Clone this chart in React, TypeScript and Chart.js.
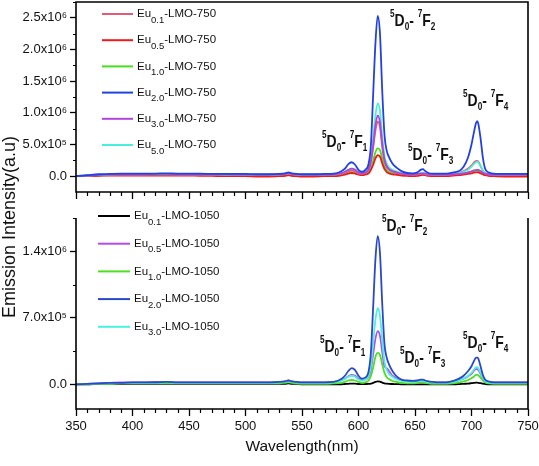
import React, { useEffect, useRef } from "react";
import { Chart, registerables } from "chart.js";
Chart.register(...registerables);

const FONT = '"Liberation Sans", Arial, Helvetica, sans-serif';

// Wavelength grid (nm)
const WAVELENGTH = [
  350, 360, 370, 380, 390, 400, 410, 420, 430, 440, 450, 460, 470, 480, 490, 500, 510, 520, 530,
  535, 538, 541, 545, 550, 560, 570, 578,
  584, 588, 591, 594, 597, 600, 603, 606, 609,
  611, 613, 615, 617, 619, 621, 623, 625, 627,
  630, 634, 638, 643, 648, 652, 655, 657, 659, 662, 666,
  672, 678, 684, 689, 693, 697, 700, 702, 704, 705, 706, 708, 710, 712, 715,
  720, 730, 740, 750,
];

// ---- Top panel (LMO-750), intensity in units of 10^6 ----
const EU01_750 = [
  0.0, 0.01, 0.015, 0.02, 0.025, 0.025, 0.025, 0.03, 0.03, 0.025, 0.025, 0.025, 0.02, 0.02, 0.02, 0.02, 0.02, 0.02, 0.02,
  0.03, 0.04, 0.03, 0.02, 0.015, 0.015, 0.02, 0.02,
  0.035, 0.05, 0.075, 0.09, 0.075, 0.045, 0.035, 0.05, 0.1,
  0.22, 0.45, 0.72, 0.86, 0.77, 0.46, 0.24, 0.14, 0.1,
  0.07, 0.05, 0.035, 0.025, 0.02, 0.025, 0.035, 0.04, 0.03, 0.02, 0.015,
  0.015, 0.02, 0.03, 0.05, 0.08, 0.12, 0.17, 0.21, 0.24, 0.24, 0.23, 0.16, 0.09, 0.045, 0.025,
  0.02, 0.015, 0.015, 0.015,
];
const EU05_750 = [
  0.0, 0.0, 0.005, 0.01, 0.01, 0.01, 0.01, 0.01, 0.01, 0.01, 0.01, 0.005, 0.005, 0.0, 0.0, 0.0, -0.005, -0.005, 0.0,
  0.005, 0.015, 0.005, 0.0, -0.005, -0.005, 0.0, 0.0,
  0.01, 0.025, 0.04, 0.05, 0.04, 0.025, 0.015, 0.025, 0.045,
  0.1, 0.18, 0.28, 0.33, 0.31, 0.2, 0.11, 0.065, 0.045,
  0.03, 0.02, 0.01, 0.005, 0.0, 0.005, 0.015, 0.02, 0.015, 0.005, 0.0,
  0.0, 0.0, 0.01, 0.015, 0.025, 0.035, 0.045, 0.055, 0.06, 0.06, 0.058, 0.045, 0.03, 0.015, 0.005,
  0.0, -0.005, -0.005, -0.005,
];
const EU10_750 = [
  0.0, 0.005, 0.01, 0.015, 0.02, 0.02, 0.02, 0.02, 0.02, 0.02, 0.02, 0.015, 0.015, 0.015, 0.015, 0.015, 0.015, 0.015, 0.015,
  0.02, 0.03, 0.02, 0.015, 0.01, 0.01, 0.015, 0.015,
  0.025, 0.04, 0.055, 0.065, 0.055, 0.035, 0.025, 0.035, 0.06,
  0.12, 0.24, 0.38, 0.44, 0.41, 0.28, 0.15, 0.09, 0.065,
  0.045, 0.035, 0.025, 0.02, 0.015, 0.02, 0.025, 0.03, 0.025, 0.015, 0.01,
  0.01, 0.015, 0.02, 0.03, 0.04, 0.055, 0.07, 0.08, 0.085, 0.085, 0.08, 0.065, 0.04, 0.025, 0.015,
  0.01, 0.01, 0.01, 0.01,
];
const EU20_750 = [
  0.0, 0.015, 0.03, 0.035, 0.04, 0.04, 0.04, 0.04, 0.045, 0.04, 0.04, 0.04, 0.035, 0.035, 0.035, 0.035, 0.03, 0.03, 0.035,
  0.045, 0.06, 0.045, 0.035, 0.03, 0.03, 0.035, 0.04,
  0.07, 0.12, 0.19, 0.22, 0.18, 0.1, 0.07, 0.1, 0.2,
  0.5, 1.3, 2.1, 2.53, 2.25, 1.35, 0.65, 0.4, 0.3,
  0.2, 0.13, 0.08, 0.05, 0.045, 0.06, 0.1, 0.11, 0.08, 0.05, 0.04,
  0.04, 0.04, 0.06, 0.08, 0.15, 0.3, 0.5, 0.68, 0.84, 0.87, 0.83, 0.6, 0.3, 0.12, 0.06,
  0.04, 0.035, 0.035, 0.035,
];
const EU30_750 = [
  0.0, 0.01, 0.02, 0.025, 0.03, 0.03, 0.03, 0.035, 0.035, 0.03, 0.03, 0.03, 0.03, 0.03, 0.025, 0.025, 0.025, 0.025, 0.03,
  0.035, 0.045, 0.035, 0.03, 0.025, 0.025, 0.025, 0.03,
  0.045, 0.07, 0.1, 0.12, 0.1, 0.06, 0.045, 0.06, 0.11,
  0.24, 0.5, 0.8, 0.96, 0.85, 0.52, 0.26, 0.16, 0.11,
  0.08, 0.06, 0.04, 0.03, 0.03, 0.035, 0.04, 0.045, 0.04, 0.03, 0.025,
  0.025, 0.025, 0.03, 0.035, 0.045, 0.06, 0.075, 0.09, 0.1, 0.1, 0.1, 0.08, 0.055, 0.04, 0.03,
  0.025, 0.025, 0.025, 0.025,
];
const EU50_750 = [
  0.0, 0.01, 0.02, 0.025, 0.03, 0.03, 0.03, 0.03, 0.03, 0.03, 0.03, 0.03, 0.03, 0.025, 0.025, 0.025, 0.025, 0.025, 0.03,
  0.035, 0.045, 0.035, 0.03, 0.025, 0.025, 0.03, 0.03,
  0.045, 0.07, 0.1, 0.12, 0.1, 0.06, 0.05, 0.07, 0.13,
  0.27, 0.6, 0.96, 1.15, 1.03, 0.62, 0.32, 0.2, 0.14,
  0.1, 0.07, 0.05, 0.04, 0.035, 0.04, 0.05, 0.055, 0.045, 0.035, 0.03,
  0.03, 0.03, 0.035, 0.05, 0.07, 0.1, 0.15, 0.19, 0.22, 0.23, 0.22, 0.16, 0.09, 0.05, 0.035,
  0.03, 0.03, 0.03, 0.03,
];

const TOP_LABELS = ["Eu0.1-LMO-750", "Eu0.5-LMO-750", "Eu1.0-LMO-750", "Eu2.0-LMO-750", "Eu3.0-LMO-750", "Eu5.0-LMO-750"];
const TOP_COLORS = ["#e25a74", "#ee1a1a", "#46e01c", "#2242e0", "#b044dc", "#46f0da"];
const TOP_ORDER = [0, 1, 2, -2, -1, -1];

// ---- Bottom panel (LMO-1050) ----
const EU01_1050 = [
  0.0, 0.0, 0.005, 0.005, 0.005, 0.005, 0.005, 0.005, 0.005, 0.005, 0.005, 0.005, 0.005, 0.005, 0.005, 0.005, 0.005, 0.005, 0.005,
  0.005, 0.01, 0.005, 0.005, 0.0, 0.0, 0.0, 0.0,
  0.0, 0.003, 0.005, 0.008, 0.006, 0.003, 0.002, 0.003, 0.005,
  0.008, 0.015, 0.025, 0.03, 0.028, 0.018, 0.01, 0.006, 0.004,
  0.003, 0.002, 0.0, 0.0, 0.0, 0.0, 0.0, 0.0, 0.0, 0.0, 0.0,
  0.0, 0.0, 0.0, 0.002, 0.005, 0.008, 0.012, 0.015, 0.017, 0.017, 0.016, 0.012, 0.006, 0.003, 0.0,
  0.0, 0.0, 0.0, 0.0,
];
const EU05_1050 = [
  0.0, 0.005, 0.01, 0.015, 0.02, 0.02, 0.02, 0.025, 0.025, 0.02, 0.02, 0.02, 0.02, 0.02, 0.02, 0.02, 0.02, 0.02, 0.025,
  0.03, 0.04, 0.03, 0.025, 0.02, 0.02, 0.02, 0.025,
  0.04, 0.06, 0.085, 0.1, 0.09, 0.06, 0.045, 0.05, 0.08,
  0.16, 0.32, 0.48, 0.56, 0.51, 0.34, 0.19, 0.17, 0.14,
  0.09, 0.06, 0.04, 0.035, 0.03, 0.035, 0.04, 0.04, 0.035, 0.025, 0.02,
  0.02, 0.02, 0.03, 0.045, 0.06, 0.085, 0.11, 0.14, 0.16, 0.16, 0.15, 0.11, 0.065, 0.035, 0.025,
  0.02, 0.02, 0.02, 0.02,
];
const EU10_1050 = [
  0.0, 0.0, 0.005, 0.005, 0.01, 0.01, 0.01, 0.01, 0.01, 0.01, 0.01, 0.01, 0.01, 0.01, 0.01, 0.01, 0.01, 0.01, 0.01,
  0.015, 0.02, 0.015, 0.01, 0.005, 0.005, 0.005, 0.01,
  0.015, 0.025, 0.04, 0.045, 0.04, 0.025, 0.015, 0.02, 0.04,
  0.09, 0.18, 0.29, 0.33, 0.31, 0.21, 0.12, 0.075, 0.055,
  0.035, 0.025, 0.015, 0.01, 0.01, 0.015, 0.02, 0.02, 0.015, 0.01, 0.005,
  0.005, 0.005, 0.01, 0.02, 0.03, 0.045, 0.065, 0.08, 0.1, 0.1, 0.095, 0.07, 0.04, 0.02, 0.01,
  0.005, 0.005, 0.005, 0.005,
];
const EU20_1050 = [
  0.0, 0.005, 0.01, 0.015, 0.015, 0.02, 0.02, 0.02, 0.025, 0.02, 0.02, 0.02, 0.02, 0.02, 0.02, 0.02, 0.02, 0.02, 0.025,
  0.03, 0.04, 0.03, 0.025, 0.02, 0.02, 0.02, 0.025,
  0.05, 0.09, 0.14, 0.17, 0.15, 0.09, 0.06, 0.07, 0.14,
  0.34, 0.82, 1.32, 1.56, 1.38, 0.85, 0.42, 0.28, 0.21,
  0.14, 0.08, 0.05, 0.04, 0.035, 0.04, 0.05, 0.05, 0.04, 0.03, 0.025,
  0.02, 0.02, 0.035, 0.06, 0.09, 0.14, 0.19, 0.24, 0.28, 0.28, 0.27, 0.19, 0.1, 0.05, 0.03,
  0.02, 0.02, 0.02, 0.02,
];
const EU30_1050 = [
  0.0, 0.005, 0.01, 0.01, 0.015, 0.015, 0.015, 0.015, 0.02, 0.015, 0.015, 0.015, 0.015, 0.015, 0.015, 0.015, 0.015, 0.015, 0.02,
  0.025, 0.03, 0.025, 0.02, 0.015, 0.015, 0.015, 0.02,
  0.035, 0.055, 0.08, 0.09, 0.08, 0.05, 0.04, 0.05, 0.09,
  0.19, 0.44, 0.68, 0.8, 0.72, 0.46, 0.24, 0.15, 0.11,
  0.08, 0.05, 0.035, 0.03, 0.025, 0.03, 0.035, 0.035, 0.03, 0.02, 0.02,
  0.015, 0.015, 0.025, 0.04, 0.06, 0.09, 0.12, 0.15, 0.18, 0.18, 0.17, 0.12, 0.07, 0.035, 0.02,
  0.015, 0.015, 0.015, 0.015,
];

const BOT_LABELS = ["Eu0.1-LMO-1050", "Eu0.5-LMO-1050", "Eu1.0-LMO-1050", "Eu2.0-LMO-1050", "Eu3.0-LMO-1050"];
const BOT_COLORS = ["#000000", "#b64ce6", "#4ee020", "#2a48c8", "#4af0e2"];
const BOT_ORDER = [5, 0, 1, -2, -1];

// ---- Axes ----
const X_TICKS = [350, 400, 450, 500, 550, 600, 650, 700, 750];
const X_MINOR = [
  360, 370, 380, 390, 410, 420, 430, 440, 460, 470, 480, 490, 510, 520, 530, 540,
  560, 570, 580, 590, 610, 620, 630, 640, 660, 670, 680, 690, 710, 720, 730, 740,
];
const TOP_Y_TICKS = [0, 0.5, 1.0, 1.5, 2.0, 2.5];
const TOP_Y_LABELS = ["0.0", "5.0x10\u2075", "1.0x10\u2076", "1.5x10\u2076", "2.0x10\u2076", "2.5x10\u2076"];
const TOP_Y_MINOR = [0.25, 0.75, 1.25, 1.75, 2.25, 2.75];
const BOT_Y_TICKS = [0, 0.7, 1.4];
const BOT_Y_LABELS = ["0.0", "7.0x10\u2075", "1.4x10\u2076"];
const BOT_Y_MINOR = [0.35, 1.05, 1.75];

// ---- Transition annotations (5D0 - 7FJ), anchored at wavelength / intensity ----
const TOP_TR_J = ["1", "2", "3", "4"];
const TOP_TR_WL = [567.7, 627.9, 643.8, 692.5];
const TOP_TR_Y = [0.537, 2.447, 0.332, 1.184];
const BOT_TR_J = ["1", "2", "3", "4"];
const BOT_TR_WL = [565.9, 620.8, 636.7, 692.5];
const BOT_TR_Y = [0.389, 1.663, 0.274, 0.432];

type Panel = {
  labels: string[];
  colors: string[];
  orders: number[];
  series: number[][];
  yMin: number;
  yMax: number;
  yTicks: number[];
  yLabels: string[];
  yMinor: number[];
  padding: { top: number; bottom: number; left: number; right: number };
  xHeight: number;
  showX: boolean;
  fullFrame: boolean;
  legend: { x: number; y: number; dy: number; len: number };
  trJ: string[];
  trWl: number[];
  trY: number[];
  yTitle: boolean;
};

function decorPlugin(p: Panel) {
  return {
    id: "decor",
    afterDraw(chart: any) {
      const { ctx, chartArea: a, scales } = chart;
      const xs = scales.x;
      const ys = scales.y;
      ctx.save();
      ctx.strokeStyle = "#000";
      ctx.lineWidth = 1.2;
      ctx.beginPath();
      for (const v of X_MINOR) {
        const px = Math.round(xs.getPixelForValue(v)) + 0.5;
        ctx.moveTo(px, a.bottom);
        ctx.lineTo(px, a.bottom + 4);
      }
      for (const v of p.yMinor) {
        const py = Math.round(ys.getPixelForValue(v)) + 0.5;
        ctx.moveTo(a.left - 3, py);
        ctx.lineTo(a.left, py);
      }
      ctx.stroke();

      // frame
      ctx.lineWidth = 1.6;
      ctx.beginPath();
      if (p.fullFrame) {
        ctx.rect(a.left, a.top, a.right - a.left, a.bottom - a.top);
      } else {
        ctx.moveTo(a.left, a.top);
        ctx.lineTo(a.left, a.bottom);
        ctx.lineTo(a.right, a.bottom);
        ctx.lineTo(a.right, a.top);
      }
      ctx.stroke();

      // legend
      const L = p.legend;
      chart.data.datasets.forEach((ds: any, i: number) => {
        const y = L.y + i * L.dy;
        ctx.strokeStyle = ds.borderColor;
        ctx.lineWidth = 2;
        ctx.beginPath();
        ctx.moveTo(L.x, y);
        ctx.lineTo(L.x + L.len, y);
        ctx.stroke();
        const m = /^(Eu)([\d.]+)(.*)$/.exec(ds.label) || ["", ds.label, "", ""];
        let x = L.x + L.len + 4;
        ctx.fillStyle = "#111";
        ctx.textBaseline = "middle";
        ctx.textAlign = "left";
        ctx.font = `11.5px ${FONT}`;
        ctx.fillText(m[1], x, y);
        x += ctx.measureText(m[1]).width;
        ctx.font = `9.5px ${FONT}`;
        ctx.fillText(m[2], x, y + 6);
        x += ctx.measureText(m[2]).width;
        ctx.font = `11.5px ${FONT}`;
        ctx.fillText(m[3], x, y);
      });

      // transition labels
      ctx.fillStyle = "#111";
      ctx.textBaseline = "middle";
      ctx.textAlign = "left";
      p.trJ.forEach((j, i) => {
        const x0 = xs.getPixelForValue(p.trWl[i]);
        const y0 = ys.getPixelForValue(p.trY[i]);
        ctx.save();
        ctx.translate(x0, y0);
        ctx.scale(0.82, 1);
        const parts: [string, number][] = [
          ["5", -1], ["D", 0], ["0", 1], ["-", 0], [" ", 0], ["7", -1], ["F", 0], [j, 1],
        ];
        let x = 0;
        for (const [t, kind] of parts) {
          ctx.font = kind === 0 ? `bold 17px ${FONT}` : `bold 10px ${FONT}`;
          const dy = kind === -1 ? -7 : kind === 1 ? 6 : 0;
          ctx.fillText(t, x, dy);
          x += ctx.measureText(t).width;
        }
        ctx.restore();
      });

      if (p.yTitle) {
        ctx.save();
        ctx.translate(15, 227);
        ctx.rotate(-Math.PI / 2);
        ctx.textAlign = "center";
        ctx.textBaseline = "alphabetic";
        ctx.fillStyle = "#111";
        ctx.font = `18px ${FONT}`;
        ctx.fillText("Emission Intensity(a.u)", 0, 0);
        ctx.restore();
      }
      ctx.restore();
    },
  };
}

function buildConfig(p: Panel): any {
  return {
    type: "line",
    data: {
      datasets: p.labels.map((label, i) => ({
        label,
        data: p.series[i].map((y, k) => ({ x: WAVELENGTH[k], y })),
        borderColor: p.colors[i],
        backgroundColor: p.colors[i],
        borderWidth: 1.8,
        pointRadius: 0,
        fill: false,
        cubicInterpolationMode: "monotone",
        order: p.orders[i],
      })),
    },
    options: {
      responsive: false,
      animation: false,
      events: [],
      layout: { padding: p.padding },
      plugins: { legend: { display: false }, tooltip: { enabled: false }, title: { display: false } },
      scales: {
        x: {
          type: "linear",
          min: 350,
          max: 750,
          afterBuildTicks: (s: any) => {
            s.ticks = X_TICKS.map((v) => ({ value: v }));
          },
          afterFit: (s: any) => {
            s.height = p.xHeight;
            s.paddingLeft = 0;
            s.paddingRight = 0;
          },
          grid: { display: true, drawOnChartArea: false, drawTicks: true, tickLength: 7, tickColor: "#000", tickWidth: 1.3 },
          border: { display: false },
          ticks: {
            display: p.showX,
            padding: 3,
            color: "#111",
            font: { family: FONT, size: 13 },
            maxRotation: 0,
            autoSkip: false,
            callback: (v: any) => String(v),
          },
          title: {
            display: p.showX,
            text: "Wavelength(nm)",
            color: "#111",
            font: { family: FONT, size: 15.5 },
            padding: { top: 0, bottom: 10 },
          },
        },
        y: {
          type: "linear",
          min: p.yMin,
          max: p.yMax,
          afterBuildTicks: (s: any) => {
            s.ticks = p.yTicks.map((v) => ({ value: v }));
          },
          afterFit: (s: any) => {
            s.width = 76;
            s.paddingTop = 0;
            s.paddingBottom = 0;
          },
          grid: { display: true, drawOnChartArea: false, drawTicks: true, tickLength: 6, tickColor: "#000", tickWidth: 1.3 },
          border: { display: false },
          ticks: {
            padding: 3,
            color: "#111",
            font: { family: FONT, size: 13 },
            autoSkip: false,
            callback: (v: any) => {
              const idx = p.yTicks.indexOf(v);
              return idx >= 0 ? p.yLabels[idx] : "";
            },
          },
        },
      },
    },
    plugins: [decorPlugin(p)],
  };
}

const TOP_PANEL: Panel = {
  labels: TOP_LABELS,
  colors: TOP_COLORS,
  orders: TOP_ORDER,
  series: [EU01_750, EU05_750, EU10_750, EU20_750, EU30_750, EU50_750],
  yMin: -0.25,
  yMax: 2.75,
  yTicks: TOP_Y_TICKS,
  yLabels: TOP_Y_LABELS,
  yMinor: TOP_Y_MINOR,
  padding: { top: 2, bottom: 266, left: 0, right: 11 },
  xHeight: 8,
  showX: false,
  fullFrame: true,
  legend: { x: 102, y: 14, dy: 26.2, len: 31 },
  trJ: TOP_TR_J,
  trWl: TOP_TR_WL,
  trY: TOP_TR_Y,
  yTitle: true,
};

const BOT_PANEL: Panel = {
  labels: BOT_LABELS,
  colors: BOT_COLORS,
  orders: BOT_ORDER,
  series: [EU01_1050, EU05_1050, EU10_1050, EU20_1050, EU30_1050],
  yMin: -0.26,
  yMax: 1.75,
  yTicks: BOT_Y_TICKS,
  yLabels: BOT_Y_LABELS,
  yMinor: BOT_Y_MINOR,
  padding: { top: 218, bottom: 0, left: 0, right: 11 },
  xHeight: 57,
  showX: true,
  fullFrame: false,
  legend: { x: 98, y: 216, dy: 27.7, len: 32 },
  trJ: BOT_TR_J,
  trWl: BOT_TR_WL,
  trY: BOT_TR_Y,
  yTitle: false,
};

export default function App() {
  const topRef = useRef<HTMLCanvasElement | null>(null);
  const botRef = useRef<HTMLCanvasElement | null>(null);

  useEffect(() => {
    if (!topRef.current || !botRef.current) return;
    const c1 = new Chart(topRef.current, buildConfig(TOP_PANEL));
    const c2 = new Chart(botRef.current, buildConfig(BOT_PANEL));
    return () => {
      c1.destroy();
      c2.destroy();
    };
  }, []);

  const cs: React.CSSProperties = { position: "absolute", left: 0, top: 0, width: 539, height: 466 };
  return (
    <div style={{ position: "absolute", left: 0, top: 0, width: 539, height: 466, background: "#fff" }}>
      <canvas ref={topRef} width={539} height={466} style={cs} />
      <canvas ref={botRef} width={539} height={466} style={cs} />
    </div>
  );
}
